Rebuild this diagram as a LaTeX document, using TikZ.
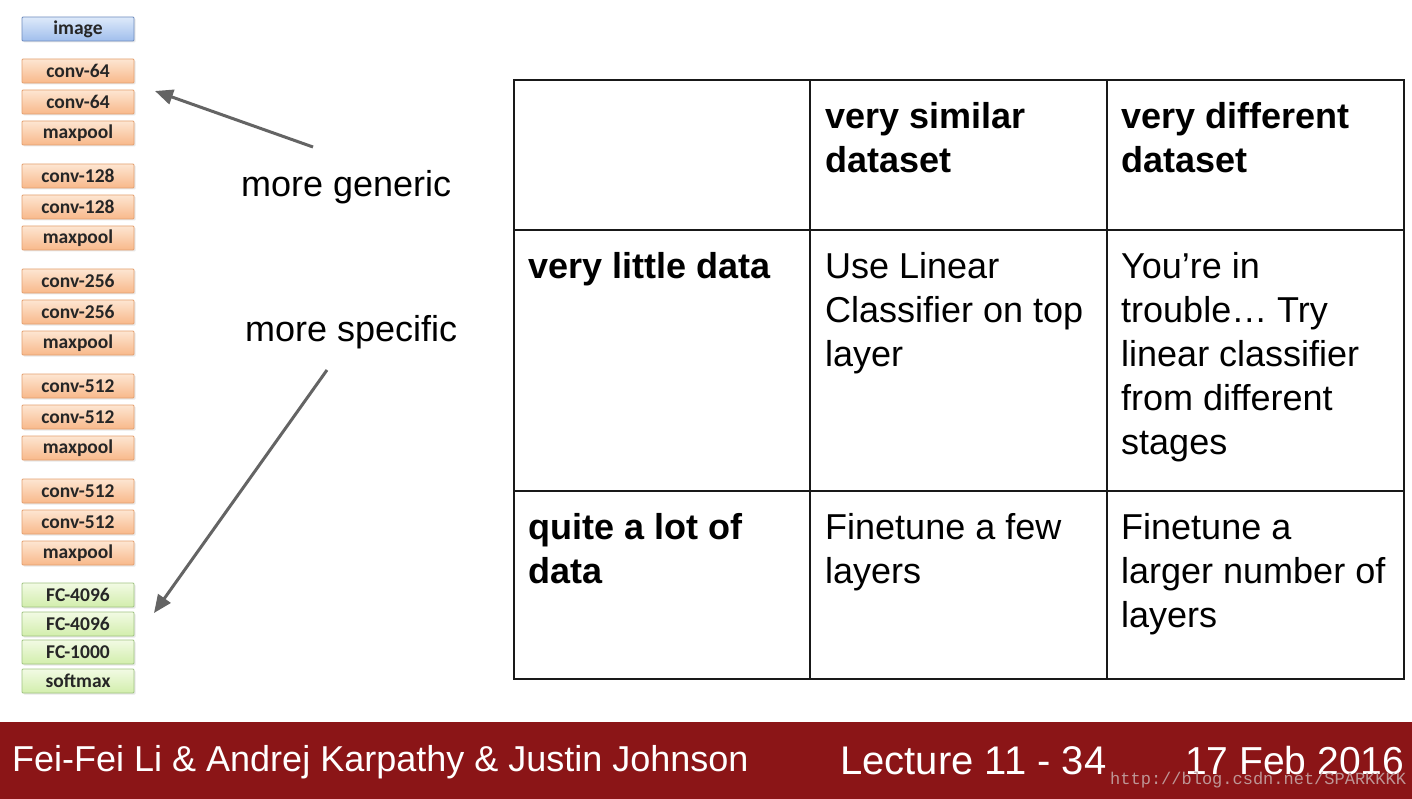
\documentclass[tikz,border=0pt]{standalone}
\usepackage{fontspec}
\setmainfont{Liberation Sans}
\newfontfamily\layerfont{Carlito}
\newfontfamily\wmfont{Liberation Mono}
\usetikzlibrary{arrows.meta,shadows}
\definecolor{footred}{RGB}{139,21,23}
\definecolor{arrgray}{RGB}{100,100,100}
\definecolor{wmcol}{RGB}{190,150,150}
\definecolor{imgtop}{RGB}{222,234,250}
\definecolor{imgbot}{RGB}{160,190,236}
\definecolor{imgbd}{RGB}{110,140,190}
\definecolor{convtop}{RGB}{253,230,210}
\definecolor{convbot}{RGB}{248,184,138}
\definecolor{convbd}{RGB}{228,160,112}
\definecolor{fctop}{RGB}{242,250,228}
\definecolor{fcbot}{RGB}{210,238,172}
\definecolor{fcbd}{RGB}{160,196,130}
\tikzset{
  layer/.style={rectangle, rounded corners=1pt, minimum width=112pt, minimum height=24pt,
    inner sep=0pt, line width=0.8pt, text=black!85,
    font=\layerfont\bfseries\fontsize{19.5}{20}\selectfont,
    drop shadow={opacity=0.18, shadow xshift=1.5pt, shadow yshift=-1.5pt}},
  imgbox/.style={layer, draw=imgbd, top color=imgtop, bottom color=imgbot},
  convbox/.style={layer, draw=convbd, top color=convtop, bottom color=convbot},
  fcbox/.style={layer, draw=fcbd, top color=fctop, bottom color=fcbot},
  pointer/.style={draw=arrgray, line width=3pt, -{Triangle[length=18pt,width=15pt]}},
  side/.style={font=\fontsize{36}{44}\selectfont, inner sep=0pt, anchor=base west},
  cell/.style={font=\fontsize{36}{44}\selectfont, inner sep=0pt, anchor=base west},
  grid/.style={draw=black!90, line width=2pt},
  foot/.style={text=white, inner sep=0pt, anchor=base west},
}
\begin{document}
\begin{tikzpicture}[x=1pt,y=-1pt]
\useasboundingbox (0,0) rectangle (1412,799);
\fill[white] (0,0) rectangle (1412,799);
% layer stack
\node[imgbox]  (L0)  at (78,29)  {image};
\node[convbox] (L1)  at (78,71)  {conv-64};
\node[convbox] (L2)  at (78,102) {conv-64};
\node[convbox] (L3)  at (78,133) {maxpool};
\node[convbox] (L4)  at (78,176) {conv-128};
\node[convbox] (L5)  at (78,207) {conv-128};
\node[convbox] (L6)  at (78,238) {maxpool};
\node[convbox] (L7)  at (78,281) {conv-256};
\node[convbox] (L8)  at (78,312) {conv-256};
\node[convbox] (L9)  at (78,343) {maxpool};
\node[convbox] (L10) at (78,386) {conv-512};
\node[convbox] (L11) at (78,417) {conv-512};
\node[convbox] (L12) at (78,448) {maxpool};
\node[convbox] (L13) at (78,491) {conv-512};
\node[convbox] (L14) at (78,522) {conv-512};
\node[convbox] (L15) at (78,553) {maxpool};
\node[fcbox]   (L16) at (78,595) {FC-4096};
\node[fcbox]   (L17) at (78,624) {FC-4096};
\node[fcbox]   (L18) at (78,652) {FC-1000};
\node[fcbox]   (L19) at (78,681) {softmax};
% side labels and arrows
\node[side] (gen) at (241,197) {more generic};
\node[side] (spe) at (245,341) {more specific};
\coordinate (ga) at (313,147);
\coordinate (gb) at (155,91);
\coordinate (sa) at (327,370);
\coordinate (sb) at (154,613);
\draw[pointer] (ga) -- (gb);
\draw[pointer] (sa) -- (sb);
% table grid
\draw[grid] (514,80) rectangle (1404,679);
\draw[grid] (810,80) -- (810,679);
\draw[grid] (1107,80) -- (1107,679);
\draw[grid] (514,230) -- (1404,230);
\draw[grid] (514,491) -- (1404,491);
% table text
\node[cell] (h1) at (825,129) {\parbox[t]{275pt}{\raggedright\bfseries very similar\\dataset}};
\node[cell] (h2) at (1121,129) {\parbox[t]{275pt}{\raggedright\bfseries very different\\dataset}};
\node[cell] (r1) at (528,279) {\parbox[t]{275pt}{\raggedright\bfseries very little data}};
\node[cell] (r2) at (528,539) {\parbox[t]{275pt}{\raggedright\bfseries quite a lot of\\data}};
\node[cell] (c11) at (825,279) {\parbox[t]{275pt}{\raggedright Use Linear\\Classifier on top\\layer}};
\node[cell] (c12) at (1121,279) {\parbox[t]{275pt}{\raggedright You’re in\\trouble… Try\\linear classifier\\from different\\stages}};
\node[cell] (c21) at (825,539) {\parbox[t]{275pt}{\raggedright Finetune a few\\layers}};
\node[cell] (c22) at (1121,539) {\parbox[t]{275pt}{\raggedright Finetune a\\larger number of\\layers}};
% footer
\fill[footred] (0,722) rectangle (1412,799);
\node[foot, font=\fontsize{36}{40}\selectfont] (auth) at (12,771) {Fei-Fei Li \& Andrej Karpathy \& Justin Johnson};
\node[foot, font=\fontsize{40}{44}\selectfont] (lec) at (840,774) {Lecture 11 - 34};
\node[foot, font=\fontsize{39}{44}\selectfont] (date) at (1185,774) {17 Feb 2016};
\node[anchor=base west, inner sep=0pt, text=wmcol, font=\wmfont\fontsize{17}{20}\selectfont] (wm) at (1110,784) {http://blog.csdn.net/SPARKKKK};
\end{tikzpicture}
\end{document}
